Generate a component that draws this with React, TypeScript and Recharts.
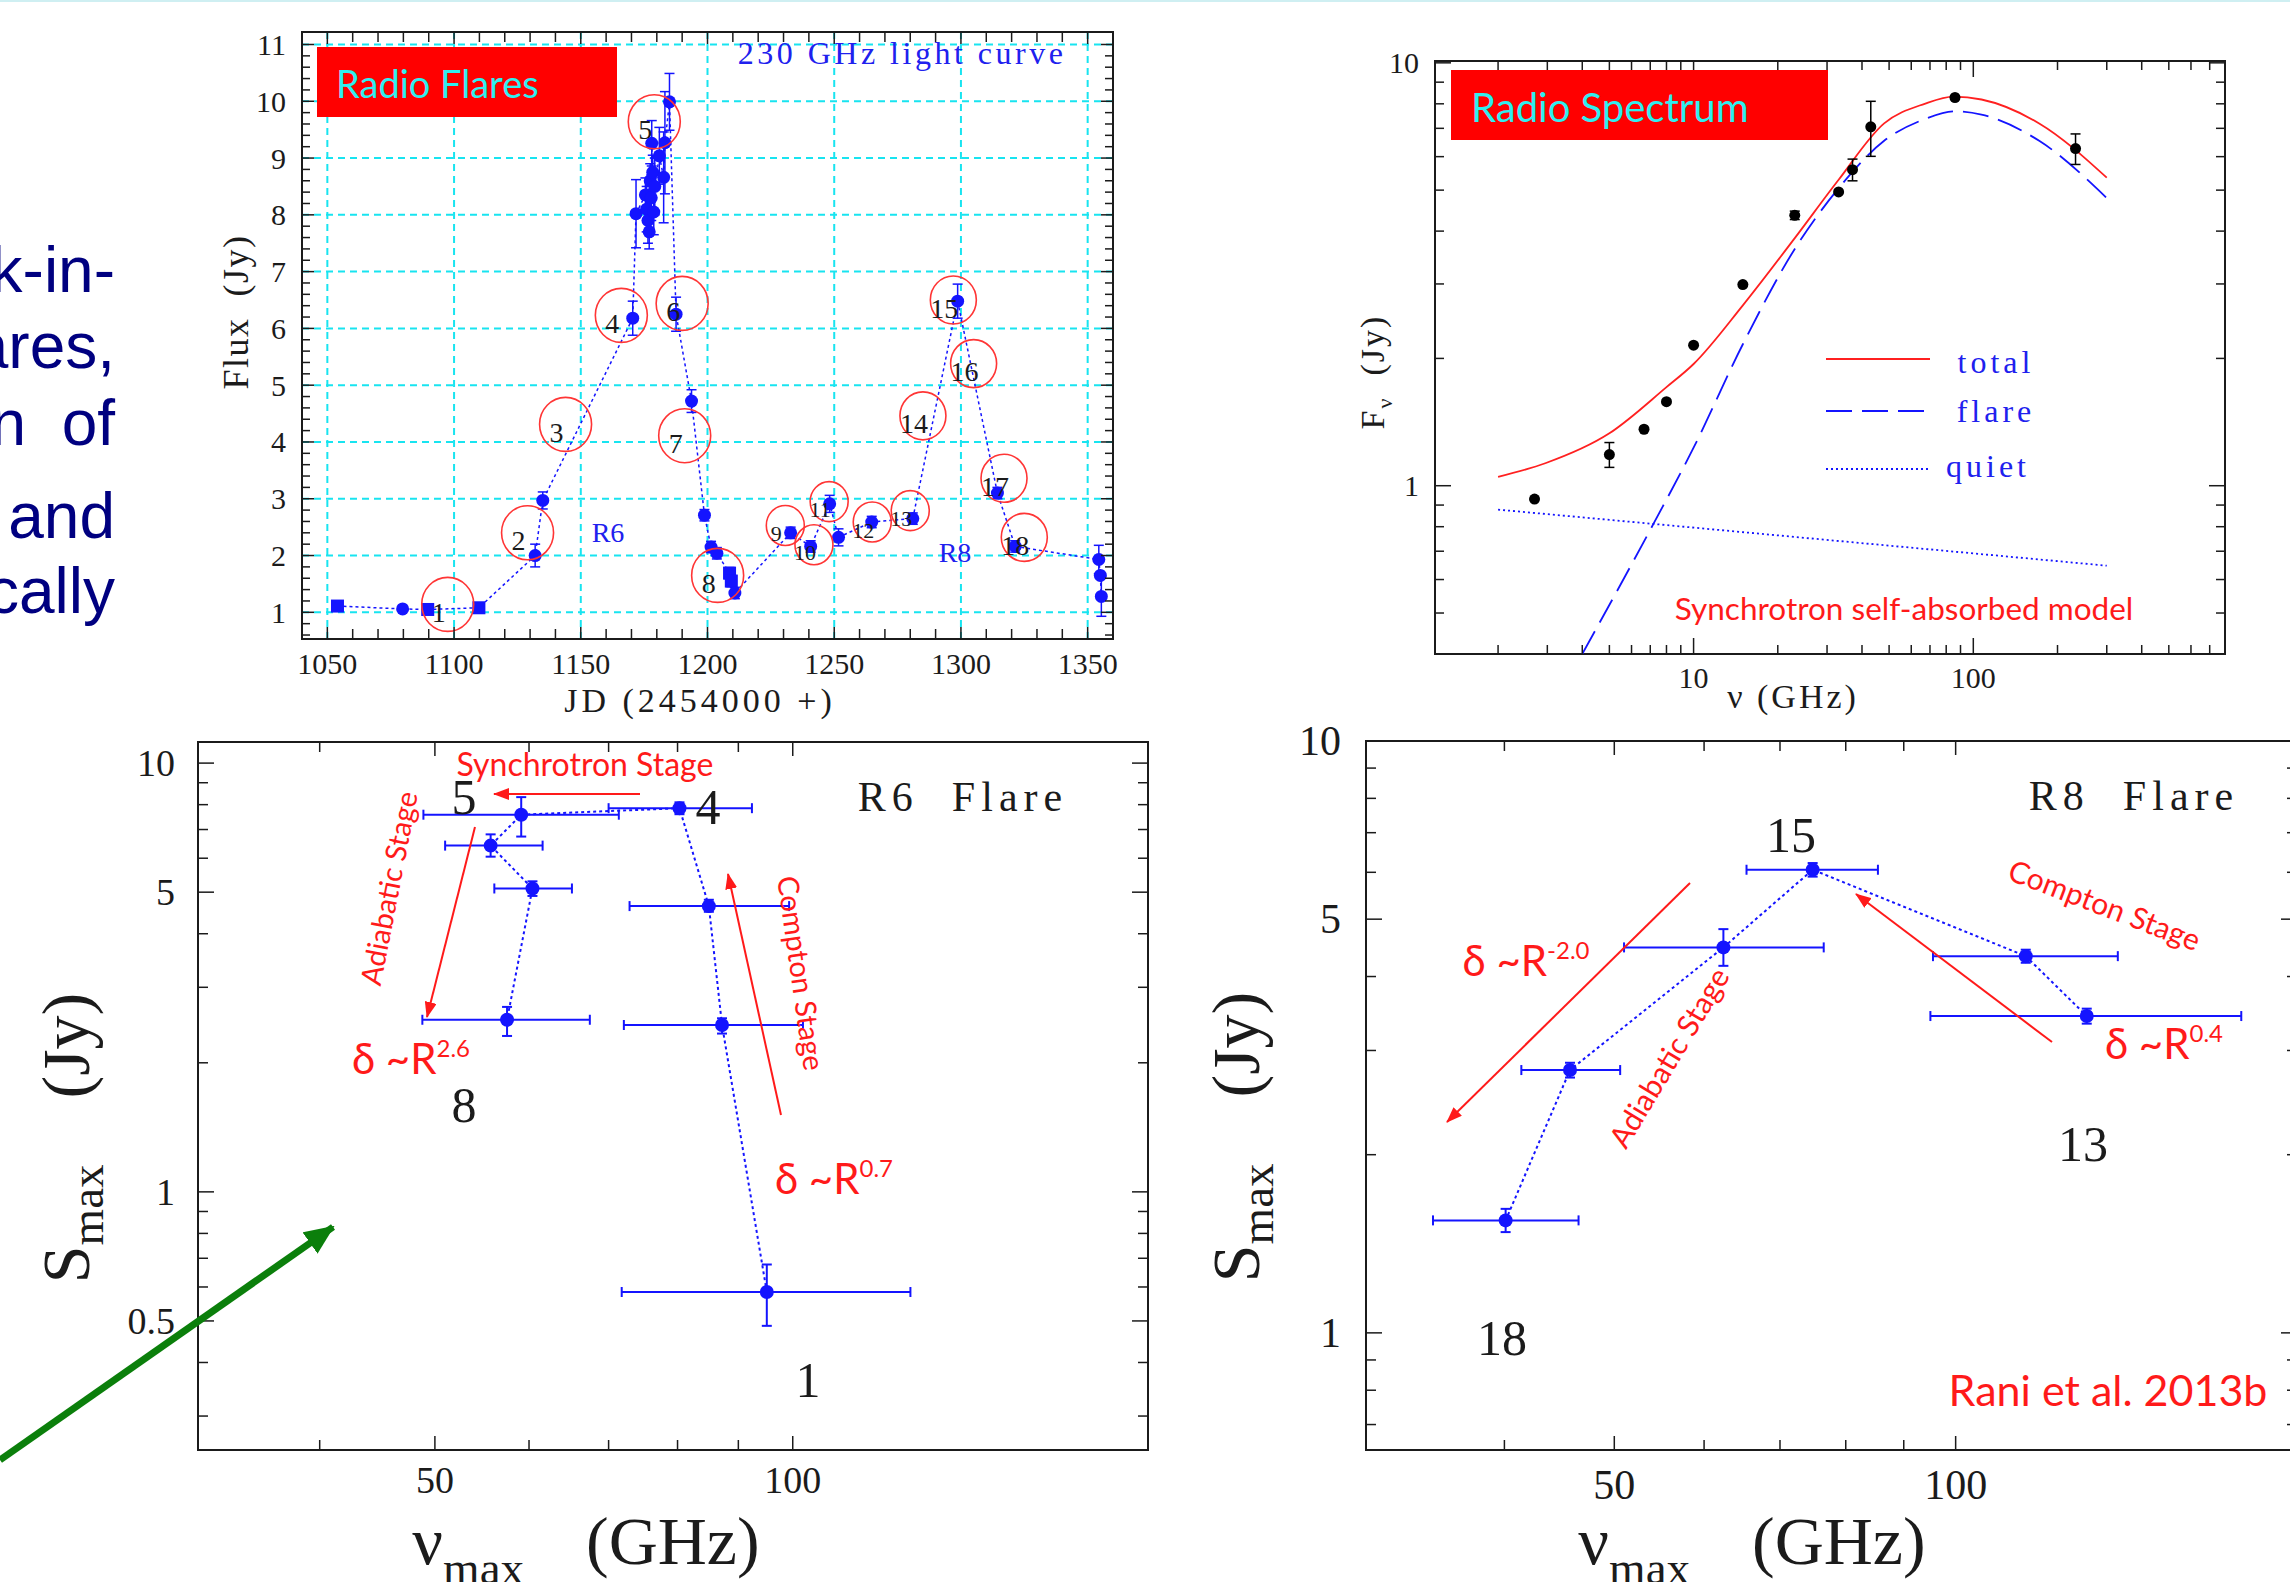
import React from "react";
import {
  ComposedChart,
  Scatter,
  Line,
  XAxis,
  YAxis,
  CartesianGrid,
  ErrorBar,
  ReferenceArea,
} from "recharts";

const SERIF = "'Liberation Serif', 'DejaVu Serif', serif";
const SANS = "Lato, 'Open Sans', sans-serif";
const INK = "#1b1b1b";
const BLUE = "#1414ff";
const RED = "#ff1a1a";
const CYAN = "#30eef0";

// ---- 230 GHz light curve (JD - 2454000, flux in Jy)
const lcJD = [1054, 1079.7, 1089.6, 1109.8, 1132, 1135, 1170.5, 1171.8, 1175.5, 1176, 1176.5, 1177, 1177.4, 1177.8, 1178, 1178.4, 1178.8, 1179.2, 1181, 1182.7, 1183.2, 1185, 1187.6, 1193.7, 1198.8, 1201.4, 1203.7, 1208.7, 1209.4, 1210.8, 1232.8, 1240.7, 1248.2, 1251.7, 1264.8, 1281, 1298.7, 1314.4, 1321.4, 1354.4, 1355, 1355.4];
const lcFlux = [1.11, 1.06, 1.05, 1.08, 2.0, 2.97, 6.18, 8.02, 8.35, 8.1, 7.9, 7.7, 8.6, 8.3, 9.26, 8.75, 8.05, 8.5, 9.04, 8.66, 9.27, 9.99, 6.25, 4.72, 2.71, 2.15, 2.04, 1.69, 1.55, 1.34, 2.4, 2.16, 2.91, 2.32, 2.59, 2.65, 6.48, 3.1, 2.16, 1.93, 1.65, 1.28];
const lcErr = [0, 0, 0, 0, 0.2, 0.15, 0.3, 0.6, 0.3, 0.4, 0.4, 0.3, 0.3, 0.4, 0.4, 0.3, 0.4, 0.5, 0.5, 0.8, 0.9, 0.5, 0.3, 0.2, 0.1, 0.1, 0.1, 0.1, 0.1, 0.1, 0.1, 0.1, 0.15, 0.15, 0.1, 0.1, 0.3, 0.1, 0.1, 0.25, 0, 0.35];
const lcSquareJD = [1054, 1089.6, 1109.8, 1208.7, 1209.4];

// flare epochs marked with red rings
const ringNo = [1, 2, 3, 4, 5, 6, 7, 8, 9, 10, 11, 12, 13, 14, 15, 16, 17, 18];
const ringJD = [1097.5, 1129, 1144, 1166, 1179, 1190, 1191, 1204, 1230.7, 1242, 1248, 1265, 1280, 1285, 1297, 1305, 1317, 1325];
const ringFlux = [1.14, 2.4, 4.31, 6.23, 9.64, 6.44, 4.11, 1.65, 2.53, 2.19, 2.95, 2.59, 2.79, 4.46, 6.5, 5.38, 3.36, 2.32];

const lcTicksX = Array.from({ length: 31 }, (_, i) => 1050 + 10 * i);
const lcMajorX = [1050, 1100, 1150, 1200, 1250, 1300, 1350];
const lcTicksY = Array.from({ length: 53 }, (_, i) => Math.round((0.6 + 0.2 * i) * 10) / 10);
const lcMajorY = [1, 2, 3, 4, 5, 6, 7, 8, 9, 10, 11];

// ---- radio spectrum
const specNu = [2.7, 5.0, 6.65, 8.0, 10, 15, 23, 33, 37, 43, 86, 232];
const specF = [0.93, 1.185, 1.36, 1.58, 2.15, 2.99, 4.36, 4.95, 5.59, 7.06, 8.28, 6.27];
const specErr = [0, 0.08, 0, 0, 0, 0, 0.1, 0, 0.33, 1.05, 0, 0.52];

const totalNu = [2, 2.95, 5, 8, 10, 15, 23, 33, 48, 67, 85, 107, 172, 300];
const totalF = [1.05, 1.13, 1.33, 1.71, 1.94, 2.67, 3.85, 5.29, 7.19, 8.0, 8.32, 8.19, 7.19, 5.35];
const flareNu = [4.0, 7.24, 10, 15, 23, 33, 48, 67, 85, 107, 172, 300];
const flareF = [0.4, 0.82, 1.23, 2.16, 3.63, 5.05, 6.54, 7.36, 7.68, 7.54, 6.54, 4.79];
const quietNu = [2, 300];
const quietF = [0.878, 0.647];

const specTicksX = [2, 3, 4, 5, 6, 7, 8, 9, 10, 20, 30, 40, 50, 60, 70, 80, 90, 100, 200, 300, 400, 500, 600, 700];
const specMajorX = [10, 100];
const specTicksY = [0.5, 0.6, 0.7, 0.8, 0.9, 1, 2, 3, 4, 5, 6, 7, 8, 9, 10];
const specMajorY = [1, 10];

// ---- R6 flare: turnover frequency vs peak flux
const r6Nu = [95.1, 87.2, 85.0, 80.3, 59.1, 55.7, 60.4, 57.5];
const r6S = [0.584, 2.45, 4.64, 7.85, 7.58, 6.42, 5.1, 2.52];
const r6NuLo = [71.8, 72.1, 72.9, 70.0, 48.9, 51.0, 56.1, 48.8];
const r6NuHi = [125.6, 102, 99.3, 92.4, 71.4, 61.6, 65.2, 67.5];
const r6SLo = [0.487, 2.34, 4.5, 7.6, 6.74, 6.05, 4.9, 2.31];
const r6SHi = [0.677, 2.54, 4.8, 8.1, 8.33, 6.82, 5.3, 2.7];

// ---- R8 flare
const r8Nu = [40.1, 45.7, 62.4, 74.8, 115.3, 130.5];
const r8S = [1.549, 2.78, 4.48, 6.06, 4.33, 3.43];
const r8NuLo = [34.6, 41.4, 51.0, 65.4, 95.5, 95.0];
const r8NuHi = [46.5, 50.6, 76.5, 85.4, 139, 178.6];
const r8SLo = [1.48, 2.7, 4.17, 5.9, 4.22, 3.33];
const r8SHi = [1.62, 2.86, 4.81, 6.22, 4.44, 3.53];

const flareTicksX = [40, 50, 60, 70, 80, 90, 100];
const flareMajorX = [50, 100];
const r6TicksY = [0.3, 0.4, 0.5, 0.6, 0.7, 0.8, 0.9, 1, 2, 3, 4, 5, 6, 7, 8, 9, 10];
const r6MajorY = [0.5, 1, 5, 10];
const r8TicksY = [0.7, 0.8, 0.9, 1, 2, 3, 4, 5, 6, 7, 8, 9, 10];
const r8MajorY = [1, 5, 10];

// ---- tables built from the arrays
const lcData = lcJD.map((x, i) => ({ x, y: lcFlux[i], e: lcErr[i] }));
const ringData = ringJD.map((x, i) => ({ x, y: ringFlux[i], n: ringNo[i] }));
const specData = specNu.map((x, i) => ({ x, y: specF[i], e: specErr[i] }));
const totalData = totalNu.map((x, i) => ({ x, y: totalF[i] }));
const flareData = flareNu.map((x, i) => ({ x, y: flareF[i] }));
const quietData = quietNu.map((x, i) => ({ x, y: quietF[i] }));
const r6Data = r6Nu.map((x, i) => ({ x, y: r6S[i], ex: [x - r6NuLo[i], r6NuHi[i] - x], ey: [r6S[i] - r6SLo[i], r6SHi[i] - r6S[i]] }));
const r8Data = r8Nu.map((x, i) => ({ x, y: r8S[i], ex: [x - r8NuLo[i], r8NuHi[i] - x], ey: [r8S[i] - r8SLo[i], r8SHi[i] - r8S[i]] }));

type TickSpec = { majors: number[]; span: number; gap: number; size: number; long: number; short: number };
const isMajor = (m: number[], v: number) => m.some((t) => Math.abs(t - v) < 1e-6);

const xTick = (s: TickSpec) => (p: any) => {
  const { x, y } = p;
  const v = Number(p.payload.value);
  const maj = isMajor(s.majors, v);
  const len = maj ? s.long : s.short;
  return (
    <g>
      <line x1={x} x2={x} y1={y} y2={y - len} stroke={INK} strokeWidth={1.5} />
      <line x1={x} x2={x} y1={y - s.span} y2={y - s.span + len} stroke={INK} strokeWidth={1.5} />
      {maj && (
        <text x={x} y={y + s.gap} textAnchor="middle" dominantBaseline="central" fontFamily={SERIF} fontSize={s.size} fill={INK}>
          {v}
        </text>
      )}
    </g>
  );
};

const yTick = (s: TickSpec) => (p: any) => {
  const { x, y } = p;
  const v = Number(p.payload.value);
  const maj = isMajor(s.majors, v);
  const len = maj ? s.long : s.short;
  return (
    <g>
      <line x1={x} x2={x + len} y1={y} y2={y} stroke={INK} strokeWidth={1.5} />
      <line x1={x + s.span} x2={x + s.span - len} y1={y} y2={y} stroke={INK} strokeWidth={1.5} />
      {maj && (
        <text x={x - s.gap} y={y} textAnchor="end" dominantBaseline="central" fontFamily={SERIF} fontSize={s.size} fill={INK}>
          {v}
        </text>
      )}
    </g>
  );
};

const lcDot = (p: any) => {
  const jd = p.payload?.x ?? p.x;
  if (lcSquareJD.includes(jd)) return <rect x={p.cx - 6.5} y={p.cy - 6.5} width={13} height={13} fill={BLUE} />;
  return <circle cx={p.cx} cy={p.cy} r={6.5} fill={BLUE} />;
};

const ringShape = (p: any) => {
  const n = p.payload?.n ?? p.n;
  const small = n >= 9 && n <= 13;
  const r = small ? 19 : n >= 14 ? 23 : 26;
  return (
    <g>
      <ellipse cx={p.cx} cy={p.cy} rx={r} ry={r + 1} fill="none" stroke="#ff3535" strokeWidth={1.6} />
      <text x={p.cx - 9} y={p.cy + 8} textAnchor="middle" dominantBaseline="central" fontFamily={SERIF} fontSize={small ? 22 : 28} fill={INK}>
        {n}
      </text>
    </g>
  );
};

const dot = (r: number, fill: string) => (p: any) => <circle cx={p.cx} cy={p.cy} r={r} fill={fill} />;

// chart boxes (chart div position, size, margins, axis sizes)
const P1 = { left: 180, top: 20, w: 953, h: 709, mt: 12, mr: 20, yw: 122, xh: 90 };
const P2 = { left: 1330, top: 50, w: 915, h: 684, mt: 11, mr: 20, yw: 105, xh: 80 };
const P3 = { left: 60, top: 730, w: 1108, h: 810, mt: 12, mr: 20, yw: 138, xh: 90 };
const P4 = { left: 1230, top: 720, w: 1067, h: 820, mt: 21, mr: 0, yw: 136, xh: 90 };
const pw = (p: typeof P1) => p.w - p.yw - p.mr;
const ph = (p: typeof P1) => p.h - p.mt - p.xh;

const T = ({ x, y, rot = 0, style, children }: any) => (
  <div
    style={{
      position: "absolute",
      left: x,
      top: y,
      transform: `translate(-50%, -50%) rotate(${rot}deg)`,
      whiteSpace: "pre",
      lineHeight: 1,
      ...style,
    }}
  >
    {children}
  </div>
);

const Delta = ({ x, y, exp }: any) => (
  <T x={x} y={y} style={{ font: `42px ${SANS}`, color: RED }}>
    δ ~R<span style={{ fontSize: 24, position: "relative", top: -17 }}>{exp}</span>
  </T>
);

const SmaxLabel = ({ x, y }: any) => (
  <T x={x} y={y} rot={-90} style={{ font: `68px ${SERIF}`, color: INK }}>
    S<span style={{ fontSize: 47, position: "relative", top: 14 }}>max</span>
    <span style={{ marginLeft: 66 }}>(Jy)</span>
  </T>
);

const NuLabel = ({ x, y }: any) => (
  <T x={x} y={y} style={{ font: `68px ${SERIF}`, color: INK }}>
    ν<span style={{ fontSize: 47, position: "relative", top: 20 }}>max</span>
    <span style={{ marginLeft: 62 }}>(GHz)</span>
  </T>
);

const redArrows = [
  [640, 794, 494, 794],
  [475, 827, 427, 1017],
  [781, 1115, 728, 874],
  [2052, 1042, 1856, 894],
  [1690, 883, 1447, 1122],
];

const leftText = [
  { t: "k-in-", top: 238 },
  { t: "ares,", top: 314 },
  { t: "n  of", top: 391 },
  { t: " and", top: 484 },
  { t: "cally", top: 559 },
];

export default function App() {
  const serif = (size: number, color = INK, ls = 0) => ({ font: `${size}px ${SERIF}`, color, letterSpacing: ls });
  const sans = (size: number, color = RED) => ({ font: `${size}px ${SANS}`, color });

  return (
    <div style={{ position: "fixed", left: 0, top: 0, width: 2290, height: 1582, overflow: "hidden", background: "#fff" }}>
      <div style={{ position: "absolute", left: 0, top: 0, width: 2290, height: 2, background: "#cfeff2" }} />

      {leftText.map((l) => (
        <div
          key={l.t}
          style={{ position: "absolute", right: 2290 - 115, top: l.top, font: "64px 'Liberation Sans', Arial, sans-serif", lineHeight: 1, color: "#000080", whiteSpace: "pre" }}
        >
          {l.t}
        </div>
      ))}

      {/* light curve */}
      <div style={{ position: "absolute", left: P1.left, top: P1.top }}>
        <ComposedChart width={P1.w} height={P1.h} margin={{ top: P1.mt, right: P1.mr, bottom: 0, left: 0 }}>
          <CartesianGrid horizontalValues={lcMajorY} verticalValues={lcMajorX} stroke="#18e4f0" strokeDasharray="7 5" strokeWidth={2} />
          <XAxis dataKey="x" type="number" domain={[1040, 1360]} allowDataOverflow ticks={lcTicksX} interval={0} height={P1.xh}
            tickLine={false} axisLine={false} tickSize={0} tickMargin={0}
            tick={xTick({ majors: lcMajorX, span: ph(P1), gap: 24, size: 30, long: 12, short: 10 })} />
          <YAxis dataKey="y" type="number" domain={[0.53, 11.22]} allowDataOverflow ticks={lcTicksY} interval={0} width={P1.yw}
            tickLine={false} axisLine={false} tickSize={0} tickMargin={0}
            tick={yTick({ majors: lcMajorY, span: pw(P1), gap: 16, size: 30, long: 12, short: 8 })} />
          <ReferenceArea x1={1040} x2={1360} y1={0.53} y2={11.22} fill="none" stroke={INK} strokeWidth={2} />
          <Scatter data={lcData} isAnimationActive={false} shape={lcDot}
            line={{ stroke: BLUE, strokeWidth: 1.5, strokeDasharray: "3 3" }}>
            <ErrorBar dataKey="e" direction="y" width={5} stroke={BLUE} strokeWidth={1.5} />
          </Scatter>
          <Scatter data={ringData} isAnimationActive={false} shape={ringShape} />
        </ComposedChart>
      </div>

      <div style={{ position: "absolute", left: 317, top: 47, width: 300, height: 70, background: "#ff0000" }}>
        <div style={{ ...sans(38, CYAN), lineHeight: "72px", paddingLeft: 19 }}>Radio Flares</div>
      </div>
      <T x={902} y={53} style={serif(32, "#2020ee", 3.5)}>230 GHz light curve</T>
      <T x={608} y={533} style={serif(28, "#2020ee")}>R6</T>
      <T x={955} y={553} style={serif(28, "#2020ee")}>R8</T>
      <T x={236} y={312} rot={-90} style={serif(36, INK, 1.5)}>Flux  (Jy)</T>
      <T x={700} y={701} style={serif(34, INK, 4)}>JD (2454000 +)</T>

      {/* spectrum */}
      <div style={{ position: "absolute", left: P2.left, top: P2.top }}>
        <ComposedChart width={P2.w} height={P2.h} margin={{ top: P2.mt, right: P2.mr, bottom: 0, left: 0 }}>
          <XAxis dataKey="x" type="number" scale="log" domain={[1.19, 794]} allowDataOverflow ticks={specTicksX} interval={0} height={P2.xh}
            tickLine={false} axisLine={false} tickSize={0} tickMargin={0}
            tick={xTick({ majors: specMajorX, span: ph(P2), gap: 23, size: 30, long: 16, short: 9 })} />
          <YAxis dataKey="y" type="number" scale="log" domain={[0.4, 10.1]} allowDataOverflow ticks={specTicksY} interval={0} width={P2.yw}
            tickLine={false} axisLine={false} tickSize={0} tickMargin={0}
            tick={yTick({ majors: specMajorY, span: pw(P2), gap: 16, size: 30, long: 16, short: 9 })} />
          <ReferenceArea x1={1.19} x2={794} y1={0.4} y2={10.1} fill="none" stroke={INK} strokeWidth={2} />
          <Line data={quietData} dataKey="y" type="linear" dot={false} stroke={BLUE} strokeWidth={1.8} strokeDasharray="2 3" isAnimationActive={false} />
          <Line data={flareData} dataKey="y" type="monotone" dot={false} stroke={BLUE} strokeWidth={1.8} strokeDasharray="26 10" isAnimationActive={false} />
          <Line data={totalData} dataKey="y" type="monotone" dot={false} stroke="#ff2020" strokeWidth={1.8} isAnimationActive={false} />
          <Scatter data={specData} isAnimationActive={false} shape={dot(5.5, "#000")}>
            <ErrorBar dataKey="e" direction="y" width={5} stroke="#000" strokeWidth={1.5} />
          </Scatter>
        </ComposedChart>
      </div>

      <div style={{ position: "absolute", left: 1451, top: 70, width: 377, height: 70, background: "#ff0000" }}>
        <div style={{ ...sans(40, CYAN), lineHeight: "74px", paddingLeft: 20 }}>Radio Spectrum</div>
      </div>
      <T x={1996} y={362} style={serif(32, "#2020ee", 4)}>total</T>
      <T x={1996} y={411} style={serif(32, "#2020ee", 4)}>flare</T>
      <T x={1988} y={466} style={serif(32, "#2020ee", 4)}>quiet</T>
      <T x={1904} y={608} style={sans(31.5)}>Synchrotron self-absorbed model</T>
      <T x={1373} y={372} rot={-90} style={serif(34, INK, 2)}>
        F<span style={{ fontSize: 22, position: "relative", top: 8 }}>ν</span>  (Jy)
      </T>
      <T x={1793} y={697} style={serif(34, INK, 3)}>ν (GHz)</T>

      {/* R6 flare */}
      <div style={{ position: "absolute", left: P3.left, top: P3.top }}>
        <ComposedChart width={P3.w} height={P3.h} margin={{ top: P3.mt, right: P3.mr, bottom: 0, left: 0 }}>
          <XAxis dataKey="x" type="number" scale="log" domain={[31.6, 199]} allowDataOverflow ticks={flareTicksX} interval={0} height={P3.xh}
            tickLine={false} axisLine={false} tickSize={0} tickMargin={0}
            tick={xTick({ majors: flareMajorX, span: ph(P3), gap: 30, size: 38, long: 14, short: 10 })} />
          <YAxis dataKey="y" type="number" scale="log" domain={[0.25, 11.2]} allowDataOverflow ticks={r6TicksY} interval={0} width={P3.yw}
            tickLine={false} axisLine={false} tickSize={0} tickMargin={0}
            tick={yTick({ majors: r6MajorY, span: pw(P3), gap: 23, size: 38, long: 16, short: 10 })} />
          <ReferenceArea x1={31.6} x2={199} y1={0.25} y2={11.2} fill="none" stroke={INK} strokeWidth={2} />
          <Scatter data={r6Data} isAnimationActive={false} shape={dot(7, BLUE)}
            line={{ stroke: BLUE, strokeWidth: 2, strokeDasharray: "3 3" }}>
            <ErrorBar dataKey="ex" direction="x" width={5} stroke={BLUE} strokeWidth={2} />
            <ErrorBar dataKey="ey" direction="y" width={5} stroke={BLUE} strokeWidth={2} />
          </Scatter>
        </ComposedChart>
      </div>

      <T x={963} y={797} style={serif(42, INK, 6)}>R6  Flare</T>
      <T x={464} y={797} style={serif(50)}>5</T>
      <T x={708} y={807} style={serif(50)}>4</T>
      <T x={464} y={1105} style={serif(50)}>8</T>
      <T x={808} y={1380} style={serif(50)}>1</T>
      <T x={585} y={763} style={sans(32)}>Synchrotron Stage</T>
      <T x={388} y={888} rot={-79} style={sans(29)}>Adiabatic Stage</T>
      <T x={802} y={973} rot={82} style={sans(29)}>Compton Stage</T>
      <Delta x={411} y={1058} exp="2.6" />
      <Delta x={834} y={1178} exp="0.7" />
      <SmaxLabel x={66} y={1138} />
      <NuLabel x={586} y={1541} />

      {/* R8 flare */}
      <div style={{ position: "absolute", left: P4.left, top: P4.top }}>
        <ComposedChart width={P4.w} height={P4.h} margin={{ top: P4.mt, right: P4.mr, bottom: 0, left: 0 }}>
          <XAxis dataKey="x" type="number" scale="log" domain={[30.2, 200]} allowDataOverflow ticks={flareTicksX} interval={0} height={P4.xh}
            tickLine={false} axisLine={false} tickSize={0} tickMargin={0}
            tick={xTick({ majors: flareMajorX, span: ph(P4), gap: 35, size: 42, long: 14, short: 10 })} />
          <YAxis dataKey="y" type="number" scale="log" domain={[0.634, 10]} allowDataOverflow ticks={r8TicksY} interval={0} width={P4.yw}
            tickLine={false} axisLine={false} tickSize={0} tickMargin={0}
            tick={yTick({ majors: r8MajorY, span: pw(P4), gap: 25, size: 42, long: 16, short: 10 })} />
          <ReferenceArea x1={30.2} x2={200} y1={0.634} y2={10} fill="none" stroke={INK} strokeWidth={2} />
          <Scatter data={r8Data} isAnimationActive={false} shape={dot(7, BLUE)}
            line={{ stroke: BLUE, strokeWidth: 2, strokeDasharray: "3 3" }}>
            <ErrorBar dataKey="ex" direction="x" width={5} stroke={BLUE} strokeWidth={2} />
            <ErrorBar dataKey="ey" direction="y" width={5} stroke={BLUE} strokeWidth={2} />
          </Scatter>
        </ComposedChart>
      </div>

      <T x={2134} y={796} style={serif(42, INK, 6)}>R8  Flare</T>
      <T x={1791} y={835} style={serif(50)}>15</T>
      <T x={2083} y={1144} style={serif(50)}>13</T>
      <T x={1502} y={1338} style={serif(50)}>18</T>
      <T x={2105} y={904} rot={21} style={sans(30)}>Compton Stage</T>
      <T x={1668} y={1057} rot={-59} style={sans(30)}>Adiabatic Stage</T>
      <Delta x={1526} y={960} exp="-2.0" />
      <Delta x={2164} y={1043} exp="0.4" />
      <T x={2108} y={1389} style={sans(43)}>Rani et al. 2013b</T>
      <SmaxLabel x={1236} y={1137} />
      <NuLabel x={1752} y={1541} />

      {/* arrows and spectrum legend keys */}
      <svg width={2290} height={1582} style={{ position: "absolute", left: 0, top: 0, pointerEvents: "none" }}>
        <defs>
          <marker id="ar" markerUnits="userSpaceOnUse" markerWidth={16} markerHeight={12} refX={15} refY={6} orient="auto">
            <path d="M0,0 L16,6 L0,12 Z" fill={RED} />
          </marker>
          <marker id="ag" markerUnits="userSpaceOnUse" markerWidth={30} markerHeight={26} refX={28} refY={13} orient="auto">
            <path d="M0,0 L30,13 L0,26 Z" fill="#0b7f0b" />
          </marker>
        </defs>
        {redArrows.map(([x1, y1, x2, y2], i) => (
          <line key={i} x1={x1} y1={y1} x2={x2} y2={y2} stroke={RED} strokeWidth={2} markerEnd="url(#ar)" />
        ))}
        <line x1={0} y1={1460} x2={333} y2={1227} stroke="#0b7f0b" strokeWidth={7} markerEnd="url(#ag)" />
        <line x1={1826} y1={359} x2={1930} y2={359} stroke="#ff2020" strokeWidth={1.8} />
        <line x1={1826} y1={411} x2={1930} y2={411} stroke={BLUE} strokeWidth={1.8} strokeDasharray="26 10" />
        <line x1={1826} y1={469} x2={1930} y2={469} stroke={BLUE} strokeWidth={1.8} strokeDasharray="2 3" />
      </svg>
    </div>
  );
}
